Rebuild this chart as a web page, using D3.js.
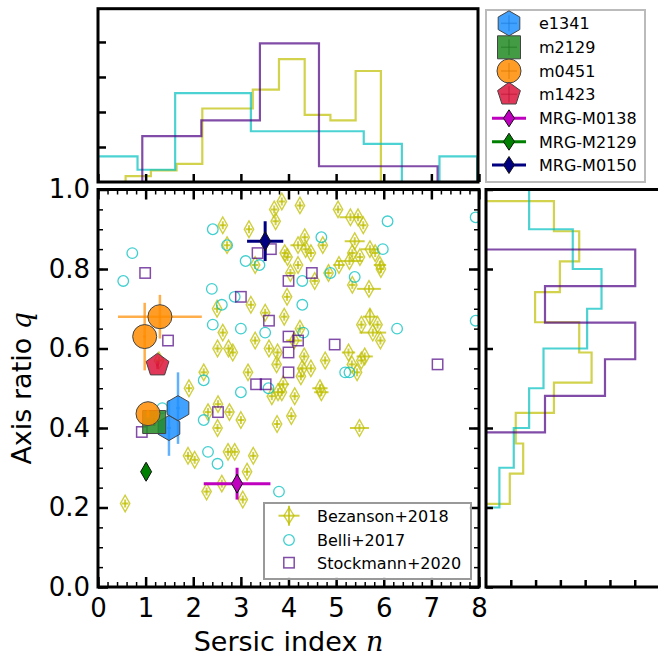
<!DOCTYPE html>
<head>
  <meta charset="utf-8">
  <script src="https://d3js.org/d3.v7.min.js"></script>
  <style>
    body { margin: 0; background: #fff; }
    text { font-family: "DejaVu Sans", sans-serif; }
  </style>
</head>
<body>
  <script>
    // ---- Bezanson+2018 (n, q, errors) ----
    var bezN = [2.62,3.17,2.71,3.70,3.86,3.73,3.30,3.92,3.98,4.04,4.24,5.04,5.30,5.46,5.57,4.34,4.20,4.36,4.47,4.72,
                4.20,4.55,4.84,5.39,5.71,5.82,5.34,5.50,5.28,5.06,5.92,5.94,5.34,5.69,3.97,3.21,2.50,3.51,3.91,2.62,
                3.30,2.51,2.74,3.59,3.77,4.24,4.12,5.71,5.53,5.87,5.77,5.93,5.26,5.60,5.53,5.44,5.33,2.83,3.75,4.33,
                4.77,4.29,4.47,4.26,3.89,3.78,3.65,3.86,4.13,4.66,4.69,3.15,2.22,1.91,2.52,2.31,2.76,3.00,2.51,3.76,
                4.06,1.89,2.03,2.73,2.87,3.26,3.13,2.60,2.28,3.04,0.57,5.49,1.28];
    var bezQ = [0.91,0.90,0.86,0.95,0.97,0.92,0.81,0.84,0.83,0.79,0.96,0.95,0.93,0.93,0.91,0.88,0.86,0.85,0.84,0.86,
                0.81,0.77,0.79,0.87,0.85,0.84,0.84,0.83,0.82,0.81,0.81,0.80,0.76,0.75,0.73,0.71,0.70,0.69,0.68,0.64,
                0.62,0.60,0.60,0.60,0.59,0.65,0.62,0.68,0.66,0.66,0.64,0.62,0.59,0.58,0.57,0.54,0.56,0.59,0.56,0.58,
                0.57,0.55,0.55,0.53,0.51,0.49,0.48,0.49,0.48,0.50,0.49,0.54,0.54,0.50,0.46,0.44,0.44,0.42,0.40,0.41,
                0.43,0.33,0.32,0.34,0.34,0.33,0.29,0.26,0.24,0.22,0.21,0.40,0.57];
    var bezNErr = [0.07,0.07,0.07,0.07,0.07,0.07,0.07,0.07,0.07,0.07,0.07,0.07,0.23,0.07,0.07,0.07,0.16,0.07,0.07,0.07,
                   0.07,0.07,0.07,0.21,0.19,0.07,0.07,0.07,0.28,0.12,0.13,0.07,0.07,0.25,0.07,0.07,0.07,0.07,0.07,0.07,
                   0.07,0.07,0.07,0.07,0.07,0.07,0.17,0.15,0.07,0.07,0.28,0.07,0.14,0.17,0.07,0.07,0.07,0.07,0.07,0.07,
                   0.07,0.10,0.07,0.07,0.12,0.12,0.07,0.07,0.07,0.16,0.15,0.07,0.07,0.07,0.07,0.07,0.07,0.07,0.07,0.07,
                   0.07,0.07,0.07,0.07,0.07,0.07,0.07,0.07,0.07,0.07,0.07,0.20,0.07];
    var bezQErr = [0.01,0.01,0.01,0.01,0.01,0.01,0.01,0.01,0.01,0.01,0.01,0.01,0.01,0.01,0.01,0.01,0.01,0.01,0.01,0.01,
                   0.01,0.01,0.01,0.01,0.01,0.01,0.01,0.01,0.01,0.01,0.01,0.01,0.01,0.01,0.01,0.01,0.01,0.01,0.01,0.01,
                   0.01,0.01,0.01,0.01,0.01,0.01,0.01,0.02,0.01,0.01,0.01,0.01,0.01,0.01,0.01,0.01,0.01,0.01,0.01,0.01,
                   0.01,0.01,0.01,0.01,0.01,0.01,0.01,0.01,0.01,0.01,0.01,0.01,0.01,0.01,0.01,0.01,0.01,0.01,0.01,0.01,
                   0.01,0.01,0.01,0.01,0.01,0.01,0.01,0.01,0.01,0.01,0.01,0.01,0.01];

    // ---- Belli+2017 ----
    var belliN = [2.41,0.72,0.53,2.71,3.10,3.39,2.39,2.60,2.87,2.41,3.00,3.51,6.08,4.69,5.98,4.88,5.39,
                  4.29,4.29,4.31,6.28,7.93,7.93,2.22,3.00,2.22,2.31,2.51,3.80,3.58,5.19,5.28,1.35];
    var belliQ = [0.90,0.84,0.77,0.86,0.82,0.81,0.75,0.71,0.73,0.66,0.65,0.64,0.92,0.88,0.85,0.79,0.78,
                  0.77,0.71,0.64,0.65,0.93,0.67,0.52,0.49,0.42,0.34,0.31,0.24,0.50,0.54,0.54,0.45];

    // ---- Stockmann+2020 ----
    var stockN = [0.99,3.35,3.63,4.00,3.00,3.59,1.47,4.00,4.00,4.49,4.20,4.97,4.00,3.32,3.52,2.52,0.92,7.13];
    var stockQ = [0.79,0.84,0.85,0.77,0.73,0.67,0.62,0.63,0.59,0.79,0.62,0.61,0.54,0.51,0.51,0.44,0.39,0.56];

    // ---- lensed galaxies ----
    var e1341N = [1.49, 1.68], e1341Q = [0.40, 0.45], e1341NErr = [0.04, 0.04], e1341QErr = [0.07, 0.09];
    var m2129N = [1.18], m2129Q = [0.415], m2129NErr = [0.03], m2129QErr = [0.01];
    var m0451N = [1.30, 0.98, 1.05], m0451Q = [0.68, 0.63, 0.436], m0451NErr = [0.88, 0.03, 0.03], m0451QErr = [0.055, 0.085, 0.01];
    var m1423N = [1.25], m1423Q = [0.558], m1423NErr = [0.03], m1423QErr = [0.01];

    // ---- MRG ----
    var mrgNames = ["MRG-M0138", "MRG-M2129", "MRG-M0150"];
    var mrgColors = ["#bf00bf", "#008000", "#000080"];
    var mrgN = [2.92, 1.01, 3.51];
    var mrgQ = [0.26, 0.29, 0.87];
    var mrgNErr = [0.70, 0.02, 0.38];
    var mrgQErr = [0.04, 0.02, 0.05];

    // ---- histograms (density) ----
    var topEdgesBez = [0.58,1.11,1.65,2.19,2.72,3.25,3.80,4.34,4.88,5.41,5.94];
    var topDensBez = [0.017,0.033,0.052,0.21,0.21,0.264,0.351,0.192,0.176,0.317];
    var topEdgesBelli = [0.0,0.83,1.62,2.42,3.21,4.00,4.79,5.58,6.38,7.17,7.96];
    var topDensBelli = [0.073,0.035,0.254,0.254,0.145,0.145,0.145,0.109,0,0.073];
    var topEdgesStock = [0.93,2.17,3.40,4.64,5.88,7.13];
    var topDensStock = [0.131,0.176,0.396,0.045,0.045];

    var rightEdgesBez = [0.209,0.285,0.361,0.438,0.514,0.590,0.666,0.742,0.819,0.895,0.971];
    var rightDensBez = [0.48,0.75,0.60,1.37,2.13,1.88,0.99,1.49,1.88,1.37];
    var rightEdgesBelli = [0.2,0.3,0.4,0.5,0.6,0.7,0.8,0.9,1.0];
    var rightDensBelli = [0.27,0.56,0.87,1.16,2.04,2.33,1.75,0.87];
    var rightEdgesStock = [0.389,0.481,0.573,0.665,0.757,0.849];
    var rightDensStock = [1.19,2.40,3.01,1.19,3.01];

    var nTicks = [0,1,2,3,4,5,6,7,8];
    var qTicks = [0,0.2,0.4,0.6,0.8,1.0];
    var topHistTicks = [0.1,0.2,0.3,0.4];
    var rightHistTicks = [0.5,1.0,1.5,2.0,2.5,3.0];

    var colBez = "#bfbf00", colBelli = "#00bfbf", colStock = "#4b0082";

    var width = 658, height = 660;
    var svg = d3.select("body").append("svg")
        .attr("width", width)
        .attr("height", height);

    var x = d3.scaleLinear().domain([0, 8]).range([98, 479]);
    var y = d3.scaleLinear().domain([0, 1]).range([587, 189.5]);
    var yTop = d3.scaleLinear().domain([0, 0.495]).range([182, 8.7]);
    var xRight = d3.scaleLinear().domain([0, 3.55]).range([486, 662]);

    var defs = svg.append("defs");
    defs.append("clipPath").attr("id", "clipMain").append("rect")
      .attr("x", x(0)).attr("y", y(1)).attr("width", x(8) - x(0)).attr("height", y(0) - y(1));
    defs.append("clipPath").attr("id", "clipTop").append("rect")
      .attr("x", x(0)).attr("y", yTop.range()[1]).attr("width", x(8) - x(0)).attr("height", yTop.range()[0] - yTop.range()[1]);
    defs.append("clipPath").attr("id", "clipRight").append("rect")
      .attr("x", xRight(0)).attr("y", y(1)).attr("width", 200).attr("height", y(0) - y(1));

    // marker shapes
    function polyPath(k, r, rot) {
      var p = d3.path();
      for (var i = 0; i < k; i++) {
        var a = (rot + i * 360 / k) * Math.PI / 180;
        if (i == 0) p.moveTo(r * Math.cos(a), r * Math.sin(a));
        else p.lineTo(r * Math.cos(a), r * Math.sin(a));
      }
      p.closePath();
      return p.toString();
    }
    function diamondPath(w, h) {
      return "M0," + (-h) + "L" + w + ",0L0," + h + "L" + (-w) + ",0Z";
    }
    function shape(kind) {
      if (kind == "hex") return polyPath(6, 12.5, -90);
      if (kind == "pent") return polyPath(5, 12, -90);
      if (kind == "square") return "M-11.5,-11.5H11.5V11.5H-11.5Z";
      if (kind == "circle") return d3.symbol(d3.symbolCircle, Math.PI * 12 * 12)();
      return "";
    }

    // ---- histograms ----
    function stepPts(edges, vals) {
      var pts = [[edges[0], 0]];
      for (var i = 0; i < vals.length; i++) {
        pts.push([edges[i], vals[i]]);
        pts.push([edges[i + 1], vals[i]]);
      }
      pts.push([edges[edges.length - 1], 0]);
      return pts;
    }
    var topLine = d3.line().x(function (d) { return x(d[0]); }).y(function (d) { return yTop(d[1]); });
    var rightLine = d3.line().x(function (d) { return xRight(d[1]); }).y(function (d) { return y(d[0]); });

    var topHist = svg.append("g").attr("clip-path", "url(#clipTop)");
    [[topEdgesBez, topDensBez, colBez], [topEdgesBelli, topDensBelli, colBelli], [topEdgesStock, topDensStock, colStock]]
      .forEach(function (h) {
        topHist.append("path").attr("d", topLine(stepPts(h[0], h[1])))
          .attr("fill", "none").attr("stroke", h[2]).attr("stroke-width", 2.2).attr("stroke-opacity", 0.7);
      });
    var rightHist = svg.append("g").attr("clip-path", "url(#clipRight)");
    [[rightEdgesBez, rightDensBez, colBez], [rightEdgesBelli, rightDensBelli, colBelli], [rightEdgesStock, rightDensStock, colStock]]
      .forEach(function (h) {
        rightHist.append("path").attr("d", rightLine(stepPts(h[0], h[1])))
          .attr("fill", "none").attr("stroke", h[2]).attr("stroke-width", 2.2).attr("stroke-opacity", 0.7);
      });

    // ---- scatter ----
    var plot = svg.append("g").attr("clip-path", "url(#clipMain)");

    var bez = plot.append("g").attr("stroke", colBez).attr("stroke-opacity", 0.75).attr("fill", "none");
    bezN.forEach(function (n, i) {
      var q = bezQ[i];
      bez.append("line").attr("x1", x(n - bezNErr[i])).attr("x2", x(n + bezNErr[i]))
        .attr("y1", y(q)).attr("y2", y(q)).attr("stroke-width", 2);
      bez.append("line").attr("x1", x(n)).attr("x2", x(n))
        .attr("y1", y(q - bezQErr[i])).attr("y2", y(q + bezQErr[i])).attr("stroke-width", 2);
      bez.append("path").attr("d", diamondPath(4.7, 8.3))
        .attr("transform", "translate(" + x(n) + "," + y(q) + ")").attr("stroke-width", 1.4);
    });

    plot.append("g").selectAll("circle").data(belliN).enter().append("circle")
      .attr("cx", function (d) { return x(d); })
      .attr("cy", function (d, i) { return y(belliQ[i]); })
      .attr("r", 5.3).attr("fill", "none").attr("stroke", colBelli)
      .attr("stroke-opacity", 0.75).attr("stroke-width", 1.3);

    plot.append("g").selectAll("rect").data(stockN).enter().append("rect")
      .attr("x", function (d) { return x(d) - 5.2; })
      .attr("y", function (d, i) { return y(stockQ[i]) - 5.2; })
      .attr("width", 10.4).attr("height", 10.4).attr("fill", "none").attr("stroke", colStock)
      .attr("stroke-opacity", 0.7).attr("stroke-width", 1.5);

    var lensed = [
      { name: "e1341", kind: "hex", color: "#1e90ff", n: e1341N, q: e1341Q, en: e1341NErr, eq: e1341QErr },
      { name: "m2129", kind: "square", color: "#228b22", n: m2129N, q: m2129Q, en: m2129NErr, eq: m2129QErr },
      { name: "m0451", kind: "circle", color: "#ff8c00", n: m0451N, q: m0451Q, en: m0451NErr, eq: m0451QErr },
      { name: "m1423", kind: "pent", color: "#dc143c", n: m1423N, q: m1423Q, en: m1423NErr, eq: m1423QErr }
    ];
    lensed.forEach(function (L) {
      var g = plot.append("g");
      L.n.forEach(function (n, i) {
        var q = L.q[i];
        g.append("line").attr("x1", x(n - L.en[i])).attr("x2", x(n + L.en[i]))
          .attr("y1", y(q)).attr("y2", y(q)).attr("stroke", L.color).attr("stroke-opacity", 0.7).attr("stroke-width", 2.5);
        g.append("line").attr("x1", x(n)).attr("x2", x(n))
          .attr("y1", y(q - L.eq[i])).attr("y2", y(q + L.eq[i])).attr("stroke", L.color).attr("stroke-opacity", 0.7).attr("stroke-width", 2.5);
      });
      L.n.forEach(function (n, i) {
        g.append("path").attr("d", shape(L.kind))
          .attr("transform", "translate(" + x(n) + "," + y(L.q[i]) + ")")
          .attr("fill", L.color).attr("fill-opacity", 0.85)
          .attr("stroke", "#444").attr("stroke-width", 1);
      });
    });

    mrgN.forEach(function (n, i) {
      var g = plot.append("g"), q = mrgQ[i];
      g.append("line").attr("x1", x(n - mrgNErr[i])).attr("x2", x(n + mrgNErr[i]))
        .attr("y1", y(q)).attr("y2", y(q)).attr("stroke", mrgColors[i]).attr("stroke-width", 3);
      g.append("line").attr("x1", x(n)).attr("x2", x(n))
        .attr("y1", y(q - mrgQErr[i])).attr("y2", y(q + mrgQErr[i])).attr("stroke", mrgColors[i]).attr("stroke-width", 3);
      g.append("path").attr("d", diamondPath(5.5, 9.5))
        .attr("transform", "translate(" + x(n) + "," + y(q) + ")")
        .attr("fill", mrgColors[i]).attr("stroke", "#111").attr("stroke-width", 1);
    });

    // ---- axes ----
    function styleAxis(g, size) {
      g.select(".domain").remove();
      g.selectAll("line").attr("stroke", "#000").attr("stroke-width", size > 6 ? 2.5 : 1.5);
      g.selectAll("text").attr("font-size", 26).attr("font-family", "DejaVu Sans").attr("fill", "#000");
    }
    var minorN = d3.range(0, 8.01, 0.2), minorQ = d3.range(0, 1.001, 0.05);

    svg.append("g").attr("transform", "translate(0," + y(0) + ")")
      .call(d3.axisBottom(x).tickValues(nTicks).tickSize(-10).tickPadding(12).tickFormat(d3.format("d")))
      .call(function (g) { styleAxis(g, 10); });
    svg.append("g").attr("transform", "translate(0," + y(0) + ")")
      .call(d3.axisBottom(x).tickValues(minorN).tickSize(-5).tickFormat(""))
      .call(function (g) { styleAxis(g, 5); });
    svg.append("g").attr("transform", "translate(0," + y(1) + ")")
      .call(d3.axisTop(x).tickValues(nTicks).tickSize(-10).tickFormat(""))
      .call(function (g) { styleAxis(g, 10); });
    svg.append("g").attr("transform", "translate(0," + y(1) + ")")
      .call(d3.axisTop(x).tickValues(minorN).tickSize(-5).tickFormat(""))
      .call(function (g) { styleAxis(g, 5); });
    svg.append("g").attr("transform", "translate(" + x(0) + ",0)")
      .call(d3.axisLeft(y).tickValues(qTicks).tickSize(-10).tickPadding(8).tickFormat(d3.format(".1f")))
      .call(function (g) { styleAxis(g, 10); });
    svg.append("g").attr("transform", "translate(" + x(0) + ",0)")
      .call(d3.axisLeft(y).tickValues(minorQ).tickSize(-5).tickFormat(""))
      .call(function (g) { styleAxis(g, 5); });
    svg.append("g").attr("transform", "translate(" + x(8) + ",0)")
      .call(d3.axisRight(y).tickValues(qTicks).tickSize(-10).tickFormat(""))
      .call(function (g) { styleAxis(g, 10); });
    svg.append("g").attr("transform", "translate(" + x(8) + ",0)")
      .call(d3.axisRight(y).tickValues(minorQ).tickSize(-5).tickFormat(""))
      .call(function (g) { styleAxis(g, 5); });

    // top histogram ticks
    svg.append("g").attr("transform", "translate(" + x(0) + ",0)")
      .call(d3.axisLeft(yTop).tickValues(topHistTicks).tickSize(-8).tickFormat(""))
      .call(function (g) { styleAxis(g, 8); });
    svg.append("g").attr("transform", "translate(0," + yTop(0) + ")")
      .call(d3.axisBottom(x).tickValues(nTicks).tickSize(-8).tickFormat(""))
      .call(function (g) { styleAxis(g, 8); });

    // right histogram ticks
    svg.append("g").attr("transform", "translate(" + xRight(0) + ",0)")
      .call(d3.axisLeft(y).tickValues(qTicks).tickSize(-7).tickFormat(""))
      .call(function (g) { styleAxis(g, 7); });
    svg.append("g").attr("transform", "translate(0," + y(0) + ")")
      .call(d3.axisBottom(xRight).tickValues(rightHistTicks).tickSize(-7).tickFormat(""))
      .call(function (g) { styleAxis(g, 7); });

    // frames
    svg.append("rect").attr("x", x(0)).attr("y", y(1)).attr("width", x(8) - x(0)).attr("height", y(0) - y(1))
      .attr("fill", "none").attr("stroke", "#000").attr("stroke-width", 3);
    svg.append("rect").attr("x", x(0)).attr("y", yTop.range()[1]).attr("width", x(8) - x(0) - 1)
      .attr("height", yTop.range()[0] - yTop.range()[1])
      .attr("fill", "none").attr("stroke", "#000").attr("stroke-width", 3);
    svg.append("rect").attr("x", xRight(0)).attr("y", y(1)).attr("width", 200).attr("height", y(0) - y(1))
      .attr("fill", "none").attr("stroke", "#000").attr("stroke-width", 3);

    // axis labels
    var xl = svg.append("text").attr("x", (x(0) + x(8)) / 2).attr("y", 651)
      .attr("text-anchor", "middle").attr("font-size", 27);
    xl.append("tspan").text("Sersic index ");
    xl.append("tspan").attr("font-family", "DejaVu Serif").attr("font-style", "italic").text("n");
    var yl = svg.append("text").attr("transform", "translate(31," + (y(0) + y(1)) / 2 + ") rotate(-90)")
      .attr("text-anchor", "middle").attr("font-size", 27);
    yl.append("tspan").text("Axis ratio ");
    yl.append("tspan").attr("font-family", "DejaVu Serif").attr("font-style", "italic").text("q");

    // ---- legend: lower ----
    var lg = svg.append("g");
    lg.append("rect").attr("x", 264).attr("y", 503).attr("width", 207).attr("height", 76)
      .attr("fill", "#fff").attr("fill-opacity", 0.9).attr("stroke", "#999").attr("stroke-width", 2);
    var lrow = [515.7, 540, 562.7];
    var lbl = ["Bezanson+2018", "Belli+2017", "Stockmann+2020"];
    var mx = 289;
    lg.append("line").attr("x1", mx - 10.5).attr("x2", mx + 10.5).attr("y1", lrow[0]).attr("y2", lrow[0])
      .attr("stroke", colBez).attr("stroke-opacity", 0.75).attr("stroke-width", 2);
    lg.append("line").attr("x1", mx).attr("x2", mx).attr("y1", lrow[0] - 10).attr("y2", lrow[0] + 10)
      .attr("stroke", colBez).attr("stroke-opacity", 0.75).attr("stroke-width", 2);
    lg.append("path").attr("d", diamondPath(5, 8)).attr("transform", "translate(" + mx + "," + lrow[0] + ")")
      .attr("fill", "none").attr("stroke", colBez).attr("stroke-opacity", 0.75).attr("stroke-width", 1.4);
    lg.append("circle").attr("cx", mx).attr("cy", lrow[1]).attr("r", 5.3)
      .attr("fill", "none").attr("stroke", colBelli).attr("stroke-opacity", 0.75).attr("stroke-width", 1.3);
    lg.append("rect").attr("x", mx - 5.2).attr("y", lrow[2] - 5.2).attr("width", 10.4).attr("height", 10.4)
      .attr("fill", "none").attr("stroke", colStock).attr("stroke-opacity", 0.7).attr("stroke-width", 1.5);
    lbl.forEach(function (t, i) {
      lg.append("text").attr("x", 317).attr("y", lrow[i] + 6).attr("font-size", 16).text(t);
    });

    // ---- legend: top right ----
    var tg = svg.append("g");
    tg.append("rect").attr("x", 486).attr("y", 10).attr("width", 159).attr("height", 172)
      .attr("fill", "#fff").attr("stroke", "#bbb").attr("stroke-width", 2);
    var trow = [23.3, 47.3, 71, 94.3, 118.3, 141.7, 165];
    var tmx = 509;
    lensed.forEach(function (L, i) {
      tg.append("path").attr("d", shape(L.kind)).attr("transform", "translate(" + tmx + "," + trow[i] + ")")
        .attr("fill", L.color).attr("fill-opacity", 0.85).attr("stroke", "#444").attr("stroke-width", 1);
      tg.append("line").attr("x1", tmx - 8).attr("x2", tmx + 8).attr("y1", trow[i]).attr("y2", trow[i])
        .attr("stroke", L.color).attr("stroke-opacity", 0.5).attr("stroke-width", 1.5).style("filter", "brightness(0.85)");
      tg.append("line").attr("x1", tmx).attr("x2", tmx).attr("y1", trow[i] - 8).attr("y2", trow[i] + 8)
        .attr("stroke", L.color).attr("stroke-opacity", 0.5).attr("stroke-width", 1.5).style("filter", "brightness(0.85)");
      tg.append("text").attr("x", 539).attr("y", trow[i] + 6).attr("font-size", 16).text(L.name);
    });
    mrgNames.forEach(function (nm, i) {
      var yy = trow[i + 4];
      tg.append("line").attr("x1", tmx - 17).attr("x2", tmx + 17).attr("y1", yy).attr("y2", yy)
        .attr("stroke", mrgColors[i]).attr("stroke-width", 3);
      tg.append("path").attr("d", diamondPath(5.5, 8.5)).attr("transform", "translate(" + tmx + "," + yy + ")")
        .attr("fill", mrgColors[i]).attr("stroke", "#111").attr("stroke-width", 1);
      tg.append("text").attr("x", 539).attr("y", yy + 6).attr("font-size", 16).text(nm);
    });
  </script>
</body>
